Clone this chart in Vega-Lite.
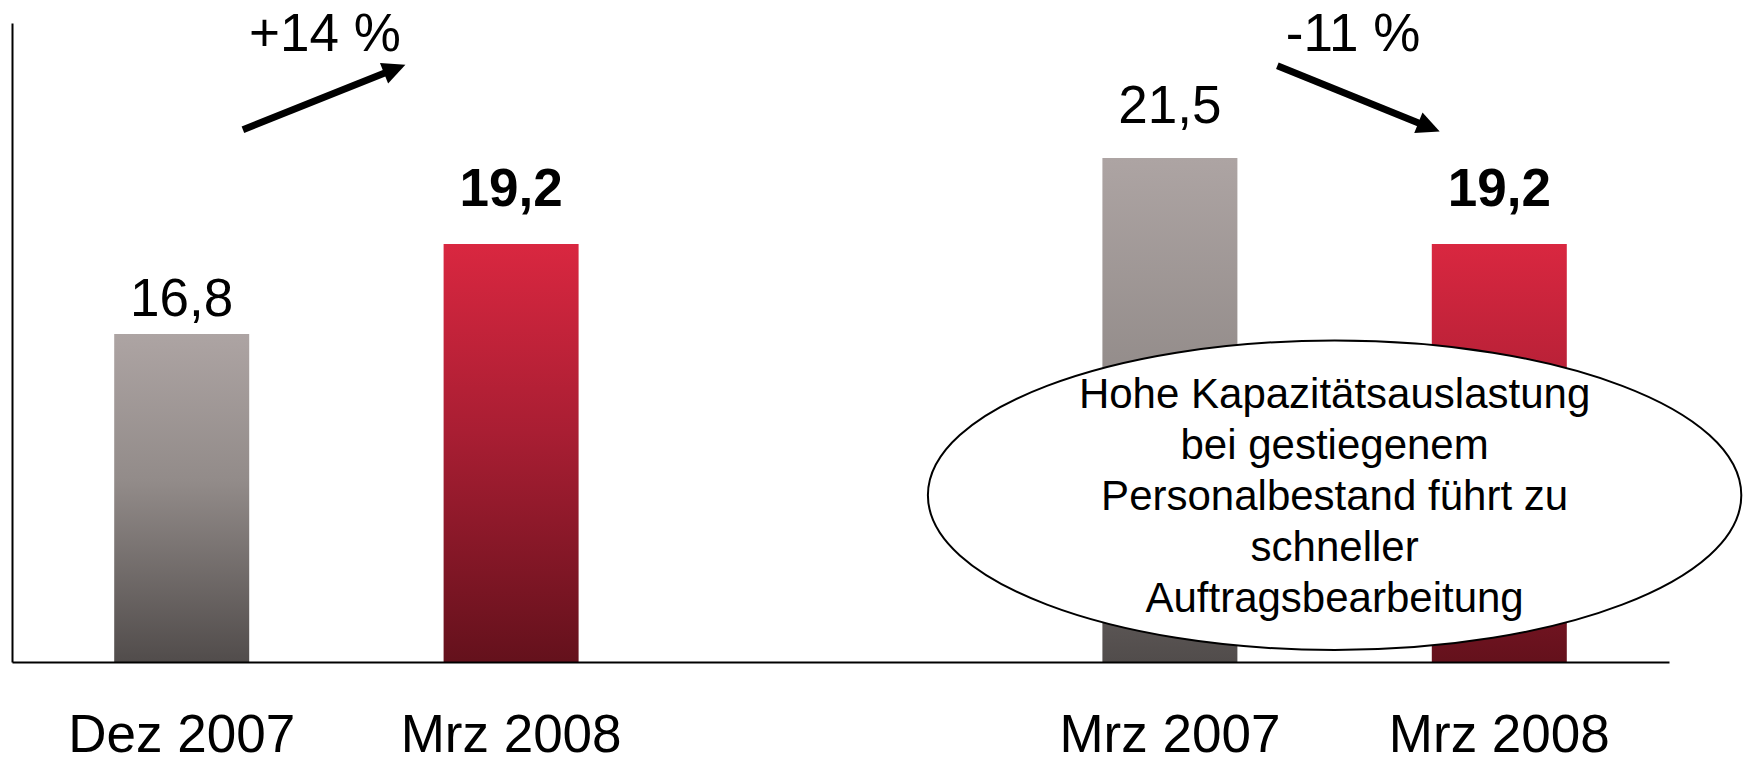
{
  "$schema": "https://vega.github.io/schema/vega-lite/v6.json",
  "width": 1657,
  "height": 639,
  "autosize": {"type": "none"},
  "padding": {"left": 12, "top": 23, "right": 76, "bottom": 102},
  "background": "white",
  "config": {
    "view": {"stroke": null},
    "font": "Liberation Sans",
    "locale": {"number": {"decimal": ",", "thousands": ".", "grouping": [3], "currency": ["", " €"]}}
  },
  "datasets": {
    "bars": [
      {"zeitpunkt": "Dez 2007", "pos": 0, "wert": 16.8, "reihe": "Vorperiode", "gruppe": "A"},
      {"zeitpunkt": "Mrz 2008", "pos": 1, "wert": 19.2, "reihe": "Aktuell", "gruppe": "A"},
      {"zeitpunkt": "Mrz 2007", "pos": 3, "wert": 21.5, "reihe": "Vorperiode", "gruppe": "B"},
      {"zeitpunkt": "Mrz 2008", "pos": 4, "wert": 19.2, "reihe": "Aktuell", "gruppe": "B"}
    ],
    "veraenderung": [
      {"text": "+14 %", "pos": 0.435, "wert": 24.34},
      {"text": "-11 %", "pos": 3.556, "wert": 24.34}
    ],
    "pfeile": [
      {"pos": 0.1859, "wert": 22.252, "pos2": 0.6467, "wert2": 23.874},
      {"pos": 3.3262, "wert": 23.96, "pos2": 3.7867, "wert2": 22.321}
    ],
    "notiz": [
      {"pos": 3.5, "wert": 12.5, "text": "Hohe Kapazitätsauslastung\nbei gestiegenem\nPersonalbestand führt zu\nschneller\nAuftragsbearbeitung"}
    ]
  },
  "layer": [
    {
      "data": {"name": "bars"},
      "transform": [{"filter": "datum.reihe === 'Vorperiode'"}],
      "mark": {
        "type": "bar",
        "width": 135,
        "color": {
          "gradient": "linear", "x1": 0, "y1": 0, "x2": 0, "y2": 1,
          "stops": [
            {"offset": 0, "color": "#ADA4A3"},
            {"offset": 0.45, "color": "#928B89"},
            {"offset": 1, "color": "#514C4B"}
          ]
        }
      },
      "encoding": {
        "x": {"field": "pos", "type": "quantitative", "scale": {"domain": [-0.5, 4.5], "nice": false, "zero": false},
              "axis": {"domain": true, "domainColor": "black", "domainWidth": 2, "ticks": false, "labels": false, "grid": false, "title": null, "zindex": 1}},
        "y": {"field": "wert", "type": "quantitative", "scale": {"domain": [8.05, 25.1], "nice": false, "zero": false},
              "axis": {"domain": true, "domainColor": "black", "domainWidth": 2, "ticks": false, "labels": false, "grid": false, "title": null, "zindex": 1}},
        "y2": {"datum": 8.05}
      }
    },
    {
      "data": {"name": "bars"},
      "transform": [{"filter": "datum.reihe === 'Aktuell'"}],
      "mark": {
        "type": "bar",
        "width": 135,
        "color": {
          "gradient": "linear", "x1": 0, "y1": 0, "x2": 0, "y2": 1,
          "stops": [
            {"offset": 0, "color": "#D92740"},
            {"offset": 0.45, "color": "#A91E33"},
            {"offset": 1, "color": "#64111C"}
          ]
        }
      },
      "encoding": {
        "x": {"field": "pos", "type": "quantitative", "scale": {"domain": [-0.5, 4.5], "nice": false, "zero": false}},
        "y": {"field": "wert", "type": "quantitative", "scale": {"domain": [8.05, 25.1], "nice": false, "zero": false}},
        "y2": {"datum": 8.05}
      }
    },
    {
      "data": {"name": "bars"},
      "mark": {"type": "text", "fontSize": 53, "align": "center", "baseline": "alphabetic", "dy": 90, "color": "black"},
      "encoding": {
        "x": {"field": "pos", "type": "quantitative", "scale": {"domain": [-0.5, 4.5], "nice": false, "zero": false}},
        "y": {"datum": 8.05, "type": "quantitative", "scale": {"domain": [8.05, 25.1], "nice": false, "zero": false}},
        "text": {"field": "zeitpunkt"}
      }
    },
    {
      "data": {"name": "bars"},
      "transform": [{"filter": "datum.reihe === 'Aktuell'"}],
      "mark": {"type": "text", "fontSize": 53, "fontWeight": "bold", "align": "center", "baseline": "alphabetic", "dy": -38, "color": "black"},
      "encoding": {
        "x": {"field": "pos", "type": "quantitative", "scale": {"domain": [-0.5, 4.5], "nice": false, "zero": false}},
        "y": {"field": "wert", "type": "quantitative", "scale": {"domain": [8.05, 25.1], "nice": false, "zero": false}},
        "text": {"field": "wert", "type": "quantitative", "format": ".1f"}
      }
    },
    {
      "data": {"name": "bars"},
      "transform": [{"filter": "datum.reihe === 'Vorperiode' && datum.gruppe === 'A'"}],
      "mark": {"type": "text", "fontSize": 53, "align": "center", "baseline": "alphabetic", "dy": -17.6, "color": "black"},
      "encoding": {
        "x": {"field": "pos", "type": "quantitative", "scale": {"domain": [-0.5, 4.5], "nice": false, "zero": false}},
        "y": {"field": "wert", "type": "quantitative", "scale": {"domain": [8.05, 25.1], "nice": false, "zero": false}},
        "text": {"field": "wert", "type": "quantitative", "format": ".1f"}
      }
    },
    {
      "data": {"name": "bars"},
      "transform": [{"filter": "datum.reihe === 'Vorperiode' && datum.gruppe === 'B'"}],
      "mark": {"type": "text", "fontSize": 53, "align": "center", "baseline": "alphabetic", "dy": -35, "color": "black"},
      "encoding": {
        "x": {"field": "pos", "type": "quantitative", "scale": {"domain": [-0.5, 4.5], "nice": false, "zero": false}},
        "y": {"field": "wert", "type": "quantitative", "scale": {"domain": [8.05, 25.1], "nice": false, "zero": false}},
        "text": {"field": "wert", "type": "quantitative", "format": ".1f"}
      }
    },
    {
      "data": {"name": "pfeile"},
      "mark": {"type": "rule", "strokeWidth": 7, "color": "black", "strokeCap": "butt"},
      "encoding": {
        "x": {"field": "pos", "type": "quantitative", "scale": {"domain": [-0.5, 4.5], "nice": false, "zero": false}},
        "y": {"field": "wert", "type": "quantitative", "scale": {"domain": [8.05, 25.1], "nice": false, "zero": false}},
        "x2": {"field": "pos2"},
        "y2": {"field": "wert2"}
      }
    },
    {
      "data": {"values": [{"pos": 0.6467, "wert": 23.874}]},
      "mark": {"type": "point", "shape": "M 0 -1 L 0.96 1 L -0.96 1 Z", "size": 529, "angle": 68.3, "filled": true, "color": "black", "opacity": 1},
      "encoding": {
        "x": {"field": "pos", "type": "quantitative", "scale": {"domain": [-0.5, 4.5], "nice": false, "zero": false}},
        "y": {"field": "wert", "type": "quantitative", "scale": {"domain": [8.05, 25.1], "nice": false, "zero": false}}
      }
    },
    {
      "data": {"values": [{"pos": 3.7867, "wert": 22.321}]},
      "mark": {"type": "point", "shape": "M 0 -1 L 0.96 1 L -0.96 1 Z", "size": 529, "angle": 111.9, "filled": true, "color": "black", "opacity": 1},
      "encoding": {
        "x": {"field": "pos", "type": "quantitative", "scale": {"domain": [-0.5, 4.5], "nice": false, "zero": false}},
        "y": {"field": "wert", "type": "quantitative", "scale": {"domain": [8.05, 25.1], "nice": false, "zero": false}}
      }
    },
    {
      "data": {"name": "veraenderung"},
      "mark": {"type": "text", "fontSize": 53, "align": "center", "baseline": "alphabetic", "color": "black"},
      "encoding": {
        "x": {"field": "pos", "type": "quantitative", "scale": {"domain": [-0.5, 4.5], "nice": false, "zero": false}},
        "y": {"field": "wert", "type": "quantitative", "scale": {"domain": [8.05, 25.1], "nice": false, "zero": false}},
        "text": {"field": "text"}
      }
    },
    {
      "data": {"name": "notiz"},
      "mark": {
        "type": "point",
        "shape": "M -1 0 C -1 -0.2101 -0.5523 -0.3804 0 -0.3804 C 0.5523 -0.3804 1 -0.2101 1 0 C 1 0.2101 0.5523 0.3804 0 0.3804 C -0.5523 0.3804 -1 0.2101 -1 0 Z",
        "size": 661620,
        "filled": true,
        "fill": "white",
        "stroke": "black",
        "strokeWidth": 2,
        "opacity": 1,
        "fillOpacity": 1,
        "strokeOpacity": 1
      },
      "encoding": {
        "x": {"field": "pos", "type": "quantitative", "scale": {"domain": [-0.5, 4.5], "nice": false, "zero": false}},
        "y": {"field": "wert", "type": "quantitative", "scale": {"domain": [8.05, 25.1], "nice": false, "zero": false}}
      }
    },
    {
      "data": {"name": "notiz"},
      "mark": {"type": "text", "fontSize": 42, "lineHeight": 51, "lineBreak": "\n", "align": "center", "baseline": "alphabetic", "dy": -87, "color": "black"},
      "encoding": {
        "x": {"field": "pos", "type": "quantitative", "scale": {"domain": [-0.5, 4.5], "nice": false, "zero": false}},
        "y": {"field": "wert", "type": "quantitative", "scale": {"domain": [8.05, 25.1], "nice": false, "zero": false}},
        "text": {"field": "text"}
      }
    }
  ]
}
